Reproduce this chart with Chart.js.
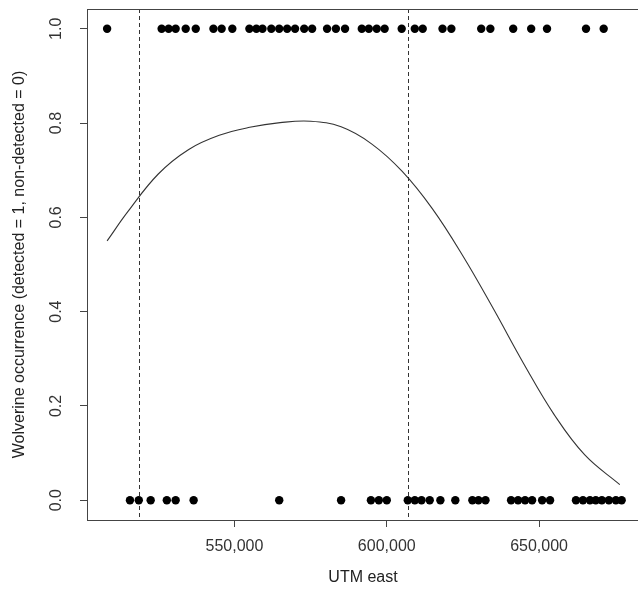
<!DOCTYPE html>
<html>
<head>
<meta charset="utf-8">
<script src="https://cdn.jsdelivr.net/npm/chart.js@4"></script>
<style>
html,body{margin:0;padding:0;background:#fff;overflow:hidden;}
#wrap{width:642px;height:589px;}
</style>
</head>
<body>
<div id="wrap"><canvas id="c" width="642" height="589"></canvas></div>
<script>
// UTM east of sites where wolverine was detected (occurrence = 1)
const detectedEast = [508200, 526100, 528400, 530700, 534000, 537300, 543100, 545800, 549300,
  554900, 557200, 559200, 562100, 564700, 567300, 569900, 572900, 575500,
  580400, 583300, 586300, 591800, 594100, 596700, 599300, 604900, 609200, 611800,
  618300, 621200, 631000, 634000, 641500, 647400, 652600, 665400, 671200];
// UTM east of sites where wolverine was not detected (occurrence = 0)
const nondetectedEast = [515700, 518600, 522500, 527800, 530700, 536600, 564700, 585000,
  594800, 597400, 600000, 606900, 609200, 611400, 614100, 617600, 622500, 628100, 630100, 632400,
  640800, 643100, 645400, 647700, 651000, 653600, 662100, 664400, 666700, 668600, 670600,
  672900, 675200, 677100];
// fitted occurrence curve
const fitEast = [508200, 515000, 525000, 535000, 545000, 555000, 565000, 575000, 585000,
  595000, 605000, 615000, 625000, 635000, 645000, 655000, 665000, 676500];
const fitProb = [0.550, 0.612, 0.692, 0.744, 0.774, 0.791, 0.801, 0.804, 0.792,
  0.756, 0.698, 0.618, 0.518, 0.406, 0.289, 0.181, 0.096, 0.033];
// vertical dashed reference lines
const refLines = [518600, 606900];
// tick values
const xTicks = [550000, 600000, 650000];
const yTicks = [0, 0.2, 0.4, 0.6, 0.8, 1.0];
const xTitle = 'UTM east';
const yTitle = 'Wolverine occurrence (detected = 1, non-detected = 0)';

const FONT = '"Liberation Sans", Arial, Helvetica, sans-serif';

const decorPlugin = {
  id: 'decor',
  beforeDatasetsDraw(chart) {
    const {ctx, chartArea: a, scales} = chart;
    ctx.save();
    ctx.strokeStyle = '#333';
    ctx.lineWidth = 1;
    ctx.setLineDash([4, 3]);
    refLines.forEach(v => {
      const px = Math.round(scales.x.getPixelForValue(v)) + 0.5;
      ctx.beginPath();
      ctx.moveTo(px, a.top);
      ctx.lineTo(px, a.bottom);
      ctx.stroke();
    });
    ctx.restore();
  },
  afterDraw(chart) {
    const {ctx, chartArea: a, scales} = chart;
    ctx.save();
    // box
    ctx.strokeStyle = '#444';
    ctx.lineWidth = 1;
    ctx.strokeRect(Math.round(a.left) + 0.5, Math.round(a.top) + 0.5,
      Math.round(a.right - a.left), Math.round(a.bottom - a.top));
    // y tick labels (rotated like R)
    ctx.fillStyle = '#333';
    ctx.font = '16px ' + FONT;
    ctx.textAlign = 'center';
    ctx.textBaseline = 'middle';
    yTicks.forEach(v => {
      const py = scales.y.getPixelForValue(v);
      ctx.save();
      ctx.translate(57, py);
      ctx.rotate(-Math.PI / 2);
      ctx.fillText(v.toFixed(1), 0, 0);
      ctx.restore();
    });
    // y title
    ctx.fillStyle = '#222';
    ctx.save();
    ctx.translate(20, (a.top + a.bottom) / 2);
    ctx.rotate(-Math.PI / 2);
    ctx.fillText(yTitle, 0, 0);
    ctx.restore();
    // x title
    ctx.fillText(xTitle, 363, 578);
    ctx.restore();
  }
};

new Chart(document.getElementById('c'), {
  type: 'scatter',
  data: {
    datasets: [
      {
        label: 'detected',
        data: detectedEast.map(x => ({x: x, y: 1})),
        backgroundColor: '#000',
        borderColor: '#000',
        pointRadius: 4.2,
        borderWidth: 0
      },
      {
        label: 'non-detected',
        data: nondetectedEast.map(x => ({x: x, y: 0})),
        backgroundColor: '#000',
        borderColor: '#000',
        pointRadius: 4.2,
        borderWidth: 0
      },
      {
        type: 'line',
        label: 'fit',
        data: fitEast.map((x, i) => ({x: x, y: fitProb[i]})),
        borderColor: '#333',
        borderWidth: 1.1,
        pointRadius: 0,
        fill: false,
        tension: 0.4
      }
    ]
  },
  plugins: [decorPlugin],
  options: {
    responsive: false,
    animation: false,
    events: [],
    layout: {padding: {top: 9, left: 0, right: 2, bottom: 0}},
    plugins: {legend: {display: false}, tooltip: {enabled: false}},
    scales: {
      x: {
        type: 'linear',
        min: 501600,
        max: 682400,
        afterBuildTicks: s => { s.ticks = xTicks.map(v => ({value: v})); },
        afterFit: s => { s.height = 69; },
        grid: {drawOnChartArea: false, drawTicks: true, tickLength: 7, color: '#444'},
        border: {display: false},
        ticks: {
          padding: 10,
          color: '#333',
          font: {family: FONT, size: 16},
          maxRotation: 0,
          callback: v => v.toLocaleString('en-US')
        }
      },
      y: {
        type: 'linear',
        min: -0.042,
        max: 1.042,
        afterBuildTicks: s => { s.ticks = yTicks.map(v => ({value: v})); },
        afterFit: s => { s.width = 87; },
        grid: {drawOnChartArea: false, drawTicks: true, tickLength: 7, color: '#444'},
        border: {display: false},
        ticks: {display: false}
      }
    }
  }
});
</script>
</body>
</html>
